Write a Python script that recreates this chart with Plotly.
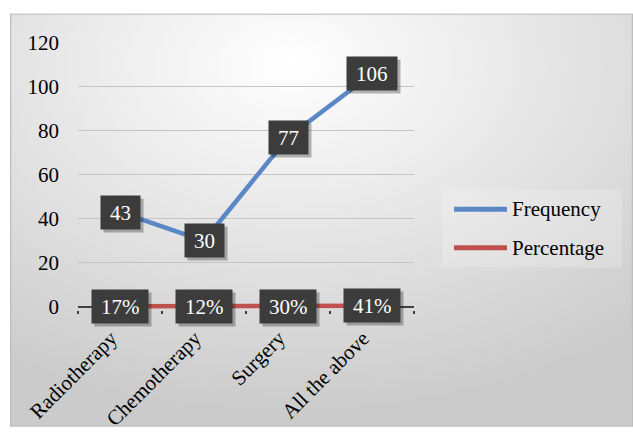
import base64
import plotly.graph_objects as go

categories = ["Radiotherapy", "Chemotherapy", "Surgery", "All the above"]
frequency = [43, 30, 77, 106]
percentage = [0.17, 0.12, 0.30, 0.41]
y_ticks = [0, 20, 40, 60, 80, 100, 120]
series_names = ["Frequency", "Percentage"]

W, H = 633, 443
L, R, T = 78, 414, 43
Y0PX = 311.0
UNIT = (Y0PX - T) / 120.0
YMIN = -1.5
B = Y0PX - YMIN * UNIT

BLUE = "#5b87c4"
RED = "#c0504d"
FONT = "Liberation Serif, Times New Roman, serif"


def px_x(p):
    return (p - L) / (R - L)


def px_y(p):
    return (B - p) / (B - T)


fig = go.Figure()
fig.add_trace(go.Scatter(x=categories, y=frequency, mode="lines",
                         line=dict(color=BLUE, width=4.5), name=series_names[0],
                         showlegend=False))
fig.add_trace(go.Scatter(x=categories, y=percentage, mode="lines",
                         line=dict(color=RED, width=4.5), name=series_names[1],
                         showlegend=False))


def text_w(s, size=21):
    w = 0
    for ch in s:
        w += 0.833 if ch == "%" else 0.5
    return w * size


annotations = []
labels = []
for c, v in zip(categories, frequency):
    labels.append((c, v, str(v)))
for c, v in zip(categories, percentage):
    labels.append((c, v, f"{round(v * 100)}%"))

for c, v, t in labels:
    w = text_w(t) + 12
    annotations.append(dict(x=c, y=v, text="", showarrow=False, width=w, height=27,
                            borderpad=3, bgcolor="rgba(0,0,0,0.28)", xshift=3, yshift=-3,
                            font=dict(size=21, family=FONT)))
for c, v, t in labels:
    w = text_w(t) + 12
    annotations.append(dict(x=c, y=v, text=t, showarrow=False, width=w, height=27,
                            borderpad=3, bgcolor="#3c3c3c",
                            font=dict(size=21, family=FONT, color="white")))

# manual legend
shapes = []
leg_y = [212, 251]
leg_cols = [BLUE, RED]
shapes.append(dict(type="rect", xref="paper", yref="paper",
                   x0=px_x(442), x1=px_x(622), y0=px_y(271), y1=px_y(192),
                   fillcolor="rgba(255,255,255,0.2)", line=dict(width=0), layer="below"))
for name, yy, col in zip(series_names, leg_y, leg_cols):
    shapes.append(dict(type="line", xref="paper", yref="paper",
                       x0=px_x(454), x1=px_x(507), y0=px_y(yy), y1=px_y(yy),
                       line=dict(color=col, width=5)))
    annotations.append(dict(xref="paper", yref="paper", x=px_x(510), y=px_y(yy),
                            xanchor="left", yanchor="middle", text=name, showarrow=False,
                            font=dict(size=21, family=FONT, color="black")))

# background gradient
bx0, by0, bx1, by1 = 10, 13, 633, 433
svg = f'''<svg xmlns="http://www.w3.org/2000/svg" width="{bx1-bx0}" height="{by1-by0}">
<defs><radialGradient id="g" cx="0.45" cy="0.12" r="0.85">
<stop offset="0" stop-color="#ffffff"/><stop offset="1" stop-color="#cbcbcb"/></radialGradient></defs>
<rect x="0.5" y="0.5" width="{bx1-bx0-1}" height="{by1-by0-1}" fill="url(#g)" stroke="#bdbdbd" stroke-width="1.5"/>
</svg>'''
src = "data:image/svg+xml;base64," + base64.b64encode(svg.encode()).decode()

fig.update_layout(
    width=W, height=H,
    margin=dict(l=L, r=W - R, t=T, b=H - B, pad=0),
    paper_bgcolor="white", plot_bgcolor="rgba(0,0,0,0)",
    font=dict(family=FONT, size=21, color="black"),
    showlegend=False,
    annotations=annotations,
    shapes=shapes,
    images=[dict(source=src, xref="paper", yref="paper", x=px_x(bx0), y=px_y(by0),
                 sizex=px_x(bx1) - px_x(bx0), sizey=px_y(by0) - px_y(by1),
                 xanchor="left", yanchor="top", sizing="stretch", layer="below")],
    xaxis=dict(type="category", categoryarray=categories, range=[-0.5, 3.5],
               showgrid=False, zeroline=False, showline=False,
               ticks="outside", tickson="boundaries", ticklen=3, tickwidth=2,
               tickcolor="#404040", tickangle=-45, ticklabelstandoff=11,
               ticklabelshift=-9,
               tickfont=dict(size=21, family=FONT, color="black")),
    yaxis=dict(range=[YMIN, 120], tickvals=y_ticks, showgrid=True, gridcolor="#c4c4c4",
               gridwidth=1, zeroline=True, zerolinecolor="#404040", zerolinewidth=2,
               showline=False, ticks="", ticklabelstandoff=18,
               tickfont=dict(size=21, family=FONT, color="black")),
)

fig.write_html("out.html")
